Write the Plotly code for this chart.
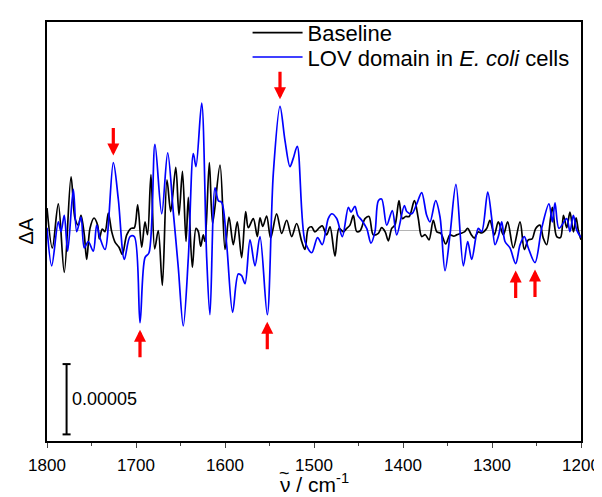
import plotly.graph_objects as go

# ---------------- data (ΔA in units of 1e-5) ----------------
lov_wn = [1800, 1794.7, 1787.3, 1784.3, 1780.6, 1776.8, 1770.4, 1766.6, 1761.8, 1758.1,
          1753.6, 1748.0, 1744.2, 1740.4, 1734.8, 1725.5, 1719.9, 1713.1, 1706.7, 1701.9,
          1695.5, 1689.9, 1685.4, 1678.7, 1671.1, 1664.4, 1658.1, 1652.5, 1646.9, 1641.2,
          1635.6, 1632.6, 1626.2, 1620.6, 1616.9, 1611.2, 1607.5, 1603.7, 1598.1, 1591.4,
          1585.1, 1581.3, 1577.5, 1571.9, 1566.3, 1560.7, 1552.5, 1545.7, 1538.2, 1532.6,
          1527.0, 1523.3, 1518.8, 1510.1, 1502.6, 1496.0, 1490.7, 1484.0, 1480.2, 1474.5,
          1468.2, 1461.4, 1458.4, 1454.0, 1450.9, 1446.4, 1440.8, 1436.0, 1431.5, 1427.7,
          1424.0, 1418.3, 1412.0, 1407.1, 1398.5, 1395.8, 1390.2, 1384.6, 1379.0, 1373.4,
          1369.7, 1363.3, 1358.4, 1352.8, 1347.2, 1340.5, 1332.2, 1327.3, 1322.8, 1315.4,
          1311.6, 1304.8, 1300.3, 1296.6, 1292.9, 1289.1, 1285.4, 1279.8, 1273.4, 1268.5,
          1263.7, 1259.2, 1251.7, 1244.2, 1236.0, 1232.2, 1229.2, 1224.7, 1216.1, 1212.4,
          1208.6, 1204.8, 1200]
lov_dA = [0.2, -2.51, 0.61, -0.08, 1.08, -1.47, 2.93, -0.08, 0.96, -1.24,
          -0.78, -1.47, 0.38, -0.54, -1.35, 4.83, 2.24, -2.05, -0.43, -0.43,
          -6.56, -1.93, -1.58, 6.12, 1.19, 5.52, 1.31, -2.63, -6.79, -1.93,
          5.47, 4.55, 9.06, -1.93, -5.99, 3.04, 2.12, 2.0, -1.01, -5.82,
          -3.09, -3.21, -3.78, -0.66, -2.51, -0.43, -5.99, 4.08, 8.83, 6.40,
          4.55, 5.13, 5.99, -0.78, -1.58, -0.5, -1.01, 0.85, 1.19, 0.85,
          -0.43, 1.65, 1.31, 1.72, 1.08, 0.73, 0.15, -0.89, -0.08, 2.12,
          2.24, 0.38, 1.42, -0.31, 1.77, 1.35, 1.19, 1.89, 2.70, 1.08,
          0.61, 2.12, 0.96, -2.86, -0.31, 3.28, -2.51, -0.78, -2.05, 0.15,
          -0.08, 2.74, 0.85, -1.01, -0.43, 0.61, -0.78, -1.24, -2.35, -1.01,
          -0.43, -1.24, -2.28, 0.15, 1.89, 0.61, 1.96, 0.15, 0.85, -0.08,
          1.08, 0.03, -0.5]

base_wn = [1800, 1794.0, 1787.3, 1780.6, 1773.0, 1768.5, 1764.8, 1761.8, 1758.1, 1755.4,
           1751.7, 1747.2, 1743.1, 1741.2, 1737.9, 1734.8, 1731.1, 1727.3, 1723.6, 1719.1,
           1715.4, 1710.4, 1705.6, 1701.9, 1698.1, 1693.6, 1689.9, 1687.0, 1683.2, 1679.0,
           1675.0, 1670.4, 1665.2, 1661.0, 1655.3, 1651.7, 1647.8, 1643.8, 1641.2, 1636.7,
           1632.6, 1630.0, 1627.3, 1624.4, 1622.5, 1617.6, 1613.9, 1605.6, 1600.0, 1595.5,
           1590.7, 1586.2, 1581.3, 1576.8, 1573.8, 1568.2, 1563.7, 1560.7, 1557.5, 1553.2,
           1548.7, 1542.0, 1536.3, 1530.7, 1525.1, 1519.5, 1513.8, 1510.1, 1506.4, 1502.6,
           1499.0, 1494.0, 1490.7, 1485.8, 1482.0, 1476.4, 1471.9, 1467.0, 1464.0, 1459.6,
           1455.8, 1452.0, 1448.0, 1442.7, 1438.2, 1433.4, 1427.7, 1424.0, 1420.0, 1416.5,
           1412.7, 1409.0, 1404.5, 1400.8, 1397.0, 1393.0, 1387.2, 1382.8, 1379.0, 1375.0,
           1370.8, 1366.0, 1362.0, 1357.5, 1352.0, 1347.2, 1343.0, 1339.7, 1335.0, 1331.0,
           1327.3, 1323.6, 1319.9, 1315.5, 1311.6, 1306.0, 1302.3, 1297.4, 1292.9, 1287.3,
           1282.4, 1276.1, 1268.5, 1263.7, 1259.2, 1255.0, 1250.9, 1246.1, 1242.4, 1238.6,
           1232.2, 1227.3, 1223.0, 1219.7, 1216.0, 1212.4, 1208.5, 1205.5, 1203.0, 1200]
base_dA = [1.6, -1.24, 1.89, -2.97, 3.81, 0.85, 0.38, 1.08, -0.31, -2.05,
           0.15, 0.89, 0.38, -0.59, 0.1, -0.08, 1.24, -0.08, -0.82, -1.19,
           -1.7, -0.31, 0.15, 0.19, 1.82, -1.19, 0.61, -0.3, 3.97, -1.3,
           0.0, -3.9, 3.6, 1.35, 4.5, 1.1, 4.2, -0.78, 2.35, -2.63,
           0.15, -0.08, -1.12, -0.31, -0.78, 4.83, 0.5, 4.66, -1.35, 0.96,
           -1.01, 0.61, -1.93, 1.35, 0.2, 0.85, -0.43, 0.9, 0.3, 1.03,
           -0.54, 1.19, -0.2, 0.73, -0.43, 0.5, -0.78, -1.35, 0.15, 0.26,
           -0.1, 0.2, 0.33, -0.31, 0.26, -1.82, 0.15, -0.1, 0.1, 0.38,
           1.08, -0.08, 0.0, 0.85, 1.0, -0.31, -0.2, 0.2, -0.1, -0.73,
           0.15, 0.4, 2.12, 0.85, 1.0, 1.0, 2.12, 0.85, -0.43, -0.3,
           -0.66, 0.73, -0.1, -0.2, -0.96, -0.31, -0.4, -0.31, -0.2, -0.1,
           0.15, -0.26, -0.54, -0.1, -0.17, 0.15, 0.73, -0.31, 0.61, -0.31,
           0.61, -1.24, 0.61, -1.35, -0.66, -0.6, 0.15, 0.38, -0.54, -1.01,
           1.65, -0.43, -0.5, 1.08, 0.2, 1.31, -0.1, 0.9, 0.0, -0.66]

down_arrow_wn = [1725.5, 1538.2]               # marked positive bands
up_arrow_wn = [1695.5, 1552.5, 1273.4, 1251.7]  # marked negative bands

x_ticks = [1800, 1700, 1600, 1500, 1400, 1300, 1200]
scale_bar_label = "0.00005"
scale_bar_len = 5.0          # in units of 1e-5
scale_bar_wn = 1778
scale_bar_bottom = -14.5

FONT = "Arial, Liberation Sans, Helvetica, sans-serif"

fig = go.Figure()
fig.add_trace(go.Scatter(x=base_wn, y=base_dA, mode="lines", name="Baseline", legend="legend",
                         line=dict(color="black", width=1.7, shape="spline", smoothing=0.9)))
fig.add_trace(go.Scatter(x=lov_wn, y=lov_dA, mode="lines", legend="legend2",
                         name="LOV domain in <i>E. coli</i> cells",
                         line=dict(color="#0000ff", width=1.7, shape="spline", smoothing=0.9)))

def value_at(wn):
    i = min(range(len(lov_wn)), key=lambda k: abs(lov_wn[k] - wn))
    return lov_dA[i]

anns = []
for w in down_arrow_wn:
    anns.append(dict(x=w, y=value_at(w), xref="x", yref="y", showarrow=True,
                     ax=0, ay=-36, arrowcolor="#ff0000", arrowhead=2, arrowsize=0.75,
                     arrowwidth=3.2, standoff=7, text=""))
for w in up_arrow_wn:
    anns.append(dict(x=w, y=value_at(w), xref="x", yref="y", showarrow=True,
                     ax=0, ay=36, arrowcolor="#ff0000", arrowhead=2, arrowsize=0.75,
                     arrowwidth=3.2, standoff=7, text=""))
anns.append(dict(x=scale_bar_wn - 3.5, y=scale_bar_bottom + scale_bar_len / 2, xref="x", yref="y",
                 text=scale_bar_label, showarrow=False, xanchor="left", yanchor="middle",
                 font=dict(family=FONT, size=18, color="black")))
# axis titles
anns.append(dict(x=0.0, y=0.5, xref="paper", yref="paper", xshift=-22, text="ΔA",
                 textangle=-90, showarrow=False, xanchor="center", yanchor="middle",
                 font=dict(family=FONT, size=20, color="black")))
anns.append(dict(x=0.5, y=0.0, xref="paper", yref="paper", yshift=-42, text="ν / cm<sup>-1</sup>",
                 showarrow=False, xanchor="center", yanchor="middle",
                 font=dict(family=FONT, size=21, color="black")))
anns.append(dict(x=0.5, y=0.0, xref="paper", yref="paper", yshift=-32, xshift=-30, text="~",
                 showarrow=False, xanchor="center", yanchor="middle",
                 font=dict(family=FONT, size=18, color="black")))

shapes = [
    dict(type="line", xref="x", yref="y", x0=scale_bar_wn, x1=scale_bar_wn,
         y0=scale_bar_bottom, y1=scale_bar_bottom + scale_bar_len, line=dict(color="black", width=2)),
    dict(type="line", xref="x", yref="y", x0=scale_bar_wn + 4.5, x1=scale_bar_wn - 4.5,
         y0=scale_bar_bottom, y1=scale_bar_bottom, line=dict(color="black", width=2)),
    dict(type="line", xref="x", yref="y", x0=scale_bar_wn + 4.5, x1=scale_bar_wn - 4.5,
         y0=scale_bar_bottom + scale_bar_len, y1=scale_bar_bottom + scale_bar_len,
         line=dict(color="black", width=2)),
]

# the page body has an 8 px default margin, so the figure is sized to fit after it
leg_common = dict(x=0.3756, xanchor="left", yanchor="middle", bgcolor="rgba(0,0,0,0)",
                  font=dict(family=FONT, size=22), itemwidth=50)
fig.update_layout(
    width=594, height=489,
    margin=dict(l=39, r=21, t=4, b=56),
    paper_bgcolor="white", plot_bgcolor="white",
    font=dict(family=FONT, size=17, color="black"),
    showlegend=True,
    legend=dict(y=0.974, **leg_common),
    legend2=dict(y=0.916, **leg_common),
    annotations=anns,
    shapes=shapes,
)
fig.update_xaxes(range=[1800, 1200], tickvals=x_ticks, ticks="outside", ticklen=5, tickwidth=1.2,
                 minor=dict(dtick=50, ticks="outside", ticklen=3, tickwidth=1.2, tick0=1200),
                 showline=True, linecolor="black", linewidth=1.5, mirror=True, automargin=False,
                 ticklabelstandoff=3,
                 showgrid=False, zeroline=False, tickfont=dict(size=17))
fig.update_yaxes(range=[-14.97, 14.83], showticklabels=False, ticks="", automargin=False,
                 showline=True, linecolor="black", linewidth=1.5, mirror=True,
                 showgrid=False, zeroline=True, zerolinecolor="#b4b4b4", zerolinewidth=1)

fig.write_html("out.html")
